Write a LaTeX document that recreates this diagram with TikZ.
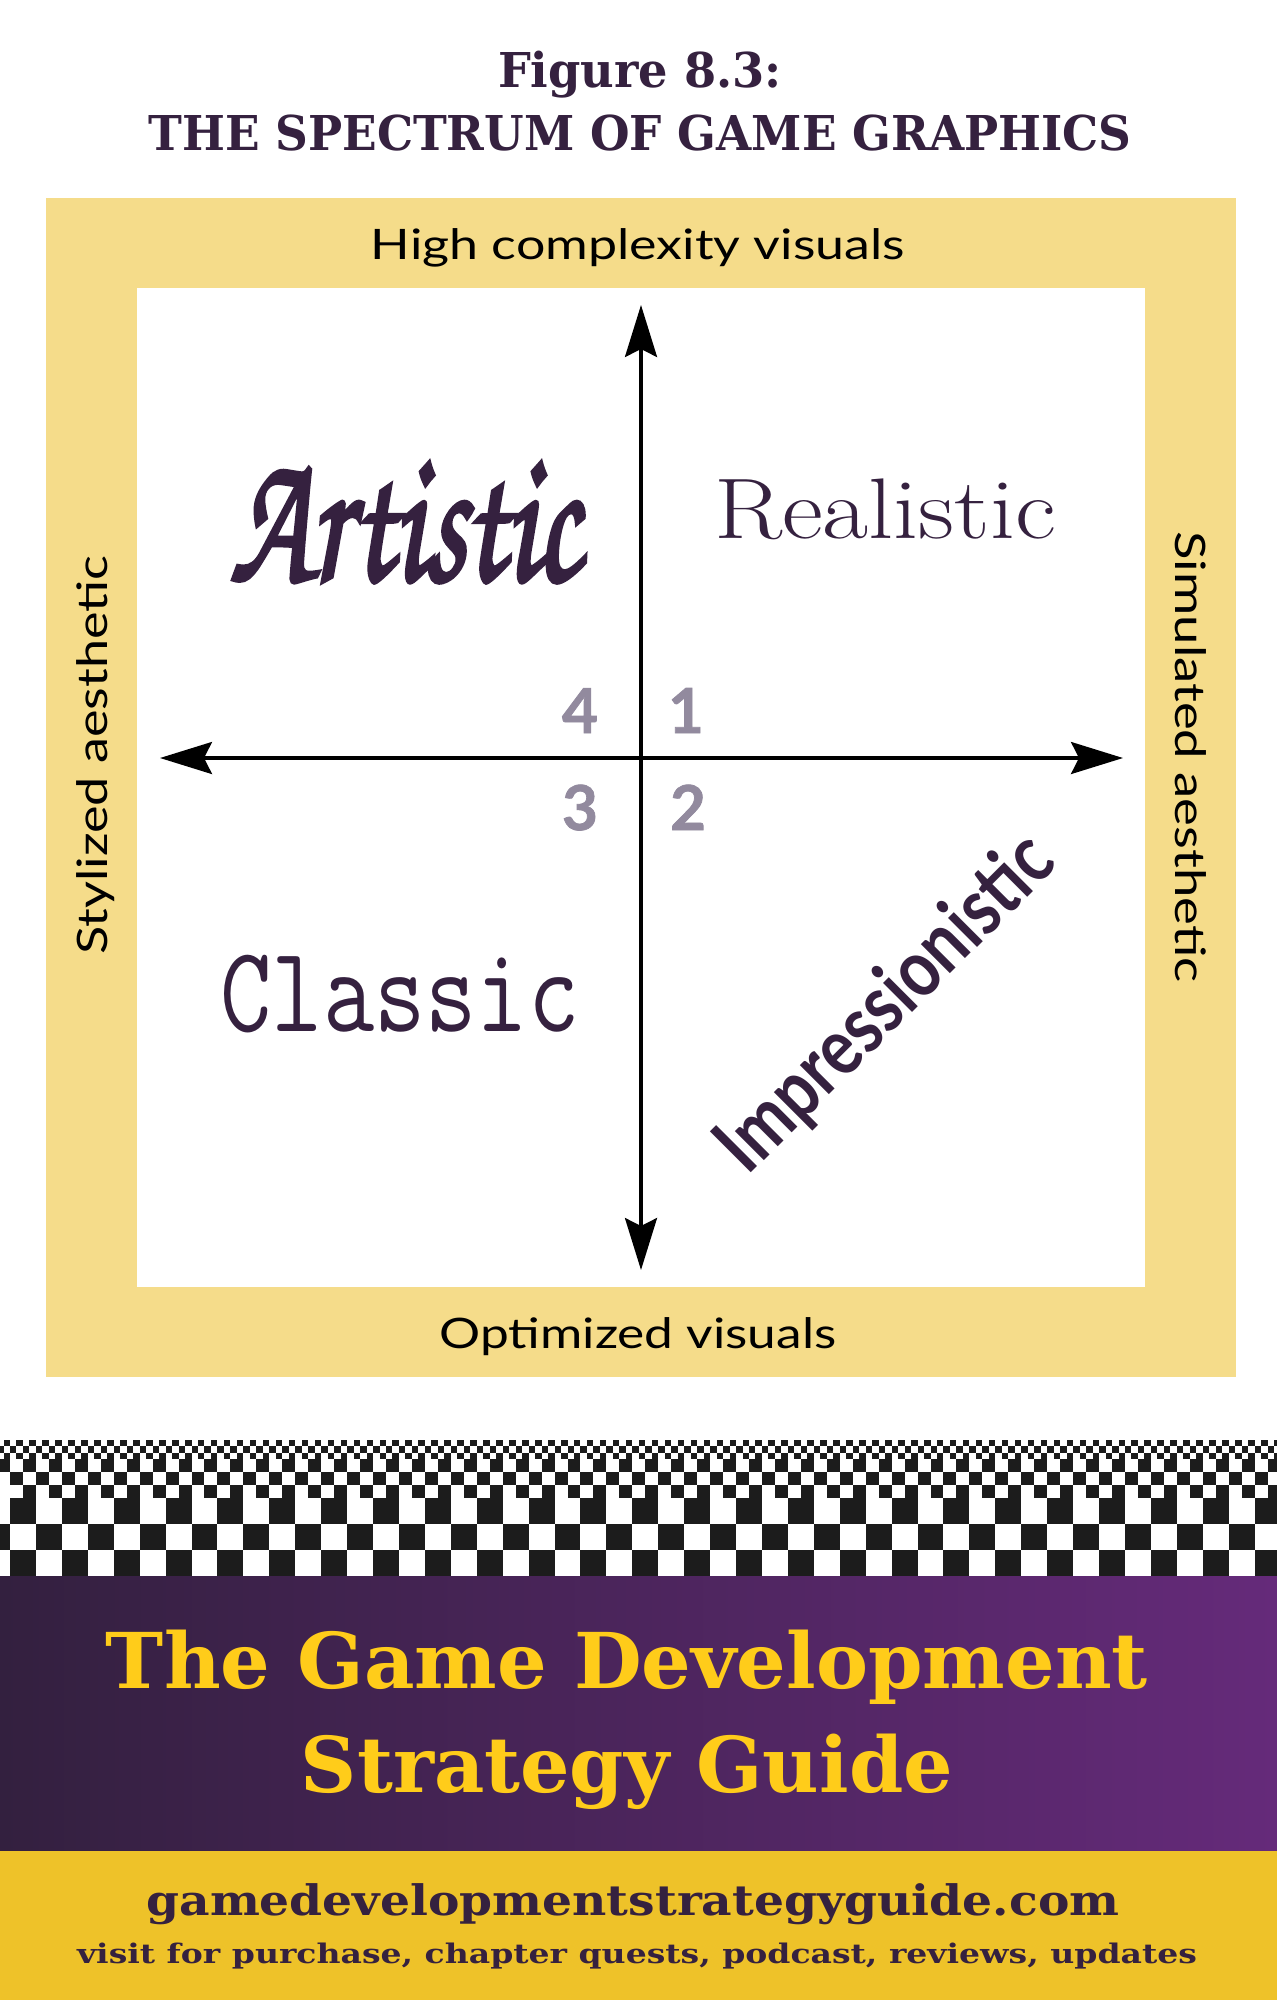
\documentclass[tikz,border=0pt]{standalone}
\usepackage{fontspec}
\usepackage{graphicx}
\usetikzlibrary{arrows.meta}
\newfontfamily\slab{DejaVu Serif}
\newfontfamily\lato{Lato}
\newfontfamily\brush{texgyrechorus-mediumitalic.otf}[FakeBold=2.5]
\definecolor{ink}{HTML}{35213F}
\definecolor{framey}{HTML}{F5DC8A}
\definecolor{numg}{HTML}{928A9E}
\definecolor{banl}{HTML}{33203F}
\definecolor{banr}{HTML}{652A7A}
\definecolor{bany}{HTML}{FFCC1A}
\definecolor{footy}{HTML}{EEC229}
\definecolor{checkk}{HTML}{1C1C1C}
\newcommand\fitw[2]{\resizebox{#1}{\height}{#2}}
\tikzset{
  lbl/.style={inner sep=0pt, anchor=base},
  axisline/.style={line width=3.3pt, black,
    {Stealth[length=52pt,width=32pt,inset=8pt]}-{Stealth[length=52pt,width=32pt,inset=8pt]}},
  quad/.style={inner sep=0pt, text=ink},
  num/.style={inner sep=0pt, anchor=base, text=numg, font=\fontsize{62}{62}\lato\bfseries\addfontfeatures{FakeBold=1.2}},
}
\begin{document}
\begin{tikzpicture}[x=1pt,y=-1pt]
\useasboundingbox (0,0) rectangle (1277,2000);
\fill[white] (0,0) rectangle (1277,2000);

% title
\node[lbl, text=ink] (fig) at (640,87) {\fitw{284pt}{\fontsize{48}{48}\slab\bfseries Figure 8.3:}};
\node[lbl, text=ink] (spec) at (640,150) {\fitw{983pt}{\fontsize{48}{48}\slab\bfseries THE SPECTRUM OF GAME GRAPHICS}};

% frame
\fill[framey] (46,198) rectangle (1236,1377);
\fill[white] (137,288) rectangle (1145,1287);

% axis labels
\node[lbl] (high) at (638,259) {\fitw{534pt}{\fontsize{42}{42}\lato High complexity visuals}};
\node[lbl] (opt) at (638,1348) {\fitw{397pt}{\fontsize{42}{42}\lato Optimized visuals}};
\node[lbl, rotate=90] (styl) at (107,755) {\fitw{399pt}{\fontsize{42}{42}\lato Stylized aesthetic}};
\node[lbl, rotate=-90] (simu) at (1175,757) {\fitw{451pt}{\fontsize{42}{42}\lato Simulated aesthetic}};

% axes
\coordinate (ytop) at (641,305);
\coordinate (ybot) at (641,1270);
\coordinate (xl) at (160,758);
\coordinate (xr) at (1123,758);
\draw[axisline] (ybot) -- (ytop);
\draw[axisline] (xr) -- (xl);

% quadrant numbers
\node[num] (n4) at (580,733) {4};
\node[num] (n1) at (686,733) {1};
\node[num] (n3) at (580,830) {3};
\node[num] (n2) at (688,830) {2};

% quadrant names
\node[quad, anchor=base] (art) at (405,580) {\resizebox{350pt}{118pt}{\fontsize{90}{90}\brush Artistic}};
\node[quad, anchor=base] (real) at (885,538) {\fitw{342pt}{\fontsize{86}{86}\rmfamily Realistic}};
\node[quad, anchor=base] (clas) at (400,1031) {\scalebox{1}[1.25]{\fitw{359pt}{\fontsize{98}{98}\ttfamily\addfontfeatures{FakeBold=2} Classic}}};
\node[quad, rotate=45] (impr) at (887,1005) {\fitw{440pt}{\fontsize{80}{80}\lato\bfseries Impressionistic}};

% checkerboard
\begin{scope}
\clip (0,1430) rectangle (1277,1576.2);
\foreach \r in {0,1,2}{
  \foreach \k in {-2,0,...,50}{
    \fill[checkk] ({10+(\k+\r)*25.93},{1498.2+\r*25.93}) rectangle ++(25.93,25.93);
  }
  \foreach \k in {-2,0,...,100}{
    \fill[checkk] ({10+(\k+\r+1)*12.965},{1459.3+\r*12.965}) rectangle ++(12.965,12.965);
  }
  \foreach \k in {-4,-2,...,198}{
    \fill[checkk] ({10+(\k+\r+1)*6.4825},{1439.85+\r*6.4825}) rectangle ++(6.4825,6.4825);
  }
}
\end{scope}

% banner
\shade[left color=banl, right color=banr] (0,1576) rectangle (1277,1851);
\node[lbl, text=bany] (t1) at (627,1688) {\fitw{1042pt}{\fontsize{77}{77}\slab\bfseries The Game Development}};
\node[lbl, text=bany] (t2) at (627,1792) {\fitw{652pt}{\fontsize{77}{77}\slab\bfseries Strategy Guide}};

% footer
\fill[footy] (0,1851) rectangle (1277,2000);
\node[lbl, text=ink] (url) at (633,1915) {\fitw{973pt}{\fontsize{42}{42}\slab\bfseries gamedevelopmentstrategyguide.com}};
\node[lbl, text=ink] (visit) at (637,1963) {\fitw{1120pt}{\fontsize{27}{27}\slab\bfseries visit for purchase, chapter quests, podcast, reviews, updates}};
\end{tikzpicture}
\end{document}
